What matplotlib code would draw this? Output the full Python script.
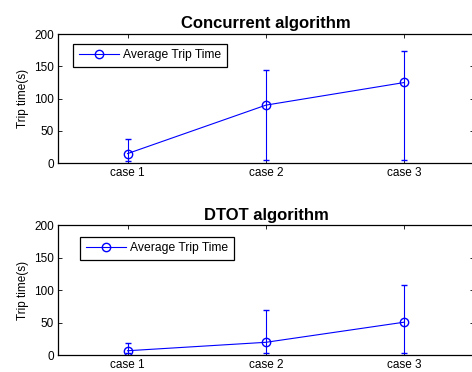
import matplotlib
matplotlib.use("Agg")
import matplotlib.pyplot as plt

plt.rcParams['font.family'] = ['Liberation Sans', 'DejaVu Sans']

cases = ["case 1", "case 2", "case 3"]
x = [1, 2, 3]

# concurrent algorithm: mean, lower end, upper end of error bar
conc_mean = [15, 90, 125]
conc_low = [4, 5, 5]
conc_high = [38, 145, 173]

# DTOT algorithm
dtot_mean = [7, 20, 51]
dtot_low = [3, 4, 4]
dtot_high = [19, 70, 108]

titles = ["Concurrent algorithm", "DTOT algorithm"]
yticks = [0, 50, 100, 150, 200]

fig = plt.figure(figsize=(4.72, 3.72), dpi=100)
ax1 = fig.add_axes([0.1235, 0.561, 0.88, 0.3476])
ax2 = fig.add_axes([0.1235, 0.0449, 0.88, 0.3495])

legend_pos = [(0.036, 0.925), (0.053, 0.91)]

for i, (ax, title, mean, low, high) in enumerate([(ax1, titles[0], conc_mean, conc_low, conc_high),
                                                  (ax2, titles[1], dtot_mean, dtot_low, dtot_high)]):
    err = [[m - l for m, l in zip(mean, low)], [h - m for m, h in zip(mean, high)]]
    ax.errorbar(x, mean, yerr=err, fmt='none', ecolor='#0000ff', elinewidth=0.8, capsize=2)
    ax.plot(x, mean, color='#0000ff', marker='o', mfc='none', markersize=6,
            linewidth=0.8, label="Average Trip Time")
    ax.set_xlim(0.5, 3.5)
    ax.set_ylim(0, 200)
    ax.set_xticks(x)
    ax.set_xticklabels(cases)
    ax.set_yticks(yticks)
    ax.tick_params(direction='in', top=True, right=True, labelsize=8.5, length=3, width=0.6, pad=3)
    ax.set_ylabel("Trip time(s)", fontsize=8.5, labelpad=4)
    ax.set_title(title, fontsize=12, fontweight='bold', pad=4)
    for s in ax.spines.values():
        s.set_linewidth(0.9)
    leg = ax.legend(loc='upper left', bbox_to_anchor=legend_pos[i], fontsize=8.7, fancybox=False,
                    framealpha=1, edgecolor='black', borderaxespad=0, handlelength=3.3,
                    handletextpad=0.4, borderpad=0.45)
    leg.get_frame().set_linewidth(0.9)

plt.savefig("out.png", dpi=100)
